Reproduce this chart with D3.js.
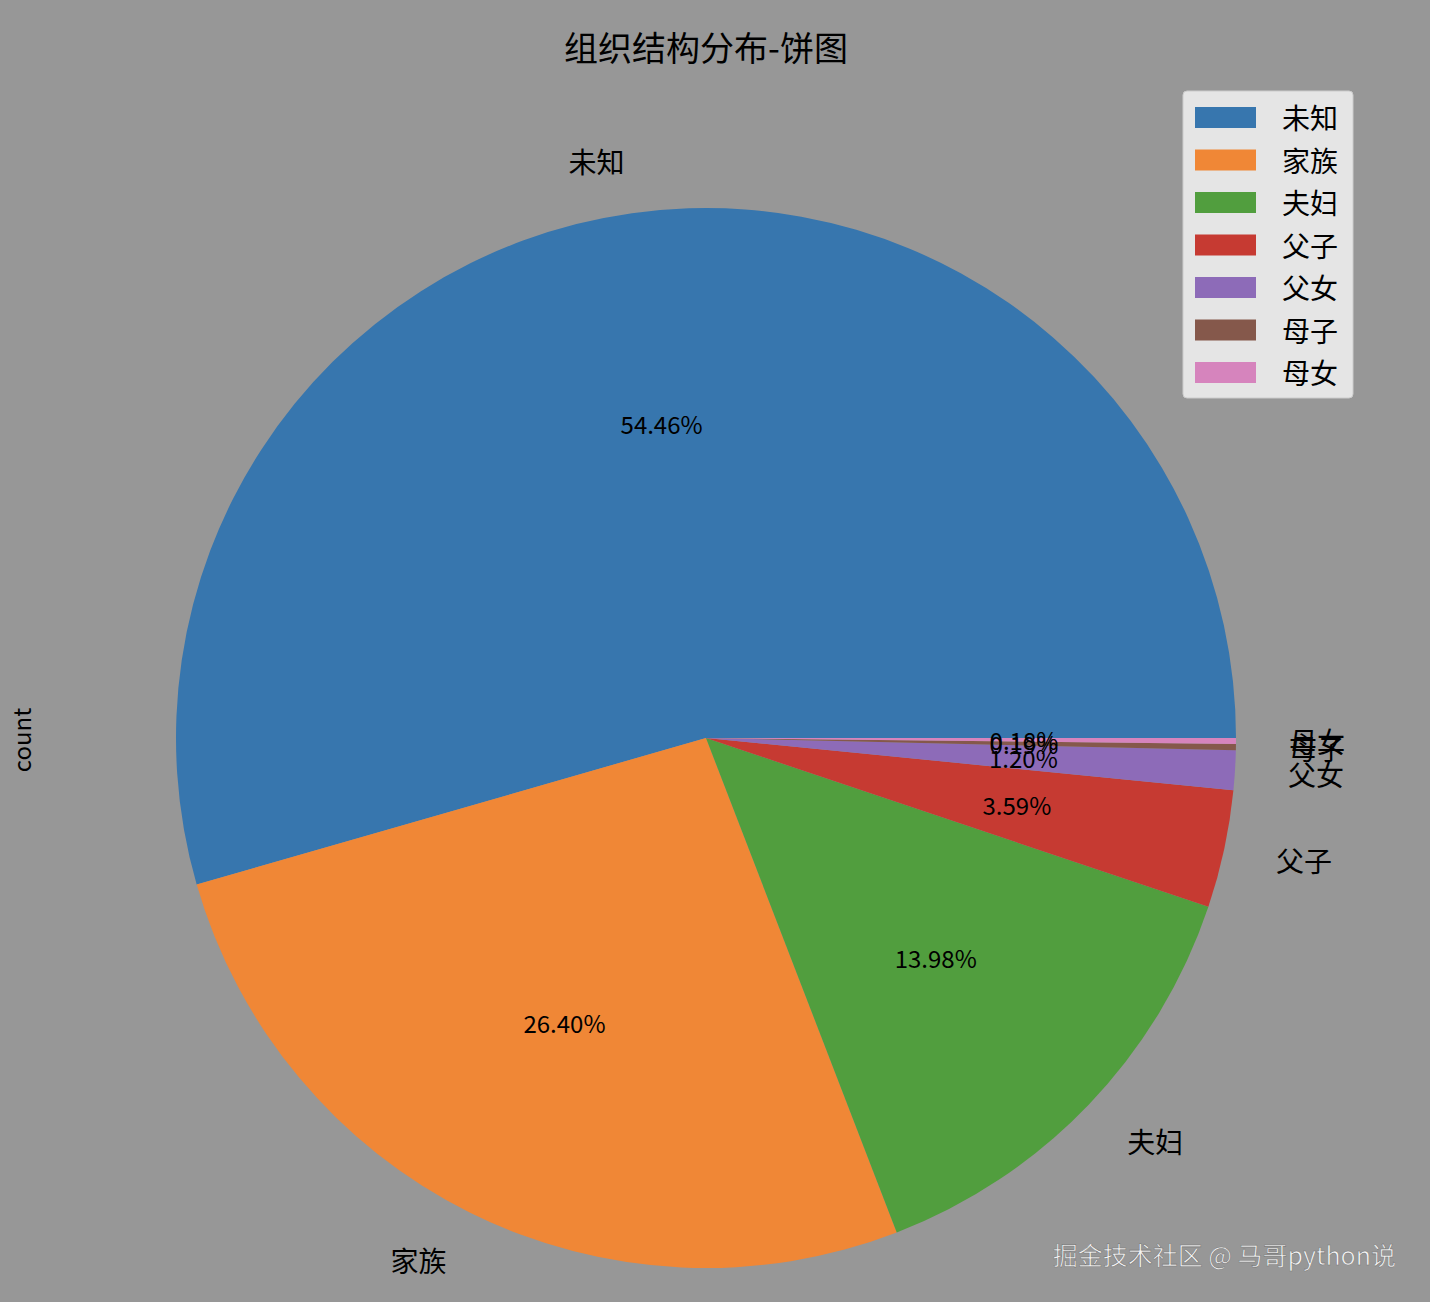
<!DOCTYPE html>
<html><head><meta charset="utf-8">
<script src="https://cdn.jsdelivr.net/npm/d3@7"></script>
<style>body{margin:0;background:#979797}text{font-family:"Noto Sans CJK SC",sans-serif}</style>
</head><body><svg id="c" width="1430" height="1302"></svg>
<script>
var labels = ['未知','家族','夫妇','父子','父女','母子','母女'];
var values = [54.46, 26.40, 13.98, 3.59, 1.20, 0.19, 0.18];
var colors = ['#3776ae','#f08736','#519e3e','#c63a32','#8d6bb8','#85584b','#d684bd'];

var svg = d3.select('#c');
svg.append('rect').attr('width',1430).attr('height',1302).attr('fill','#979797');
var cx = 706, cy = 738, r = 530;
var total = d3.sum(values);
var g = svg.append('g').attr('transform',`translate(${cx},${cy})`);
var arc = d3.arc().innerRadius(0).outerRadius(r);
var a0 = 0;
var slices = values.map(function(v,i){
  var a1 = a0 + v/total*2*Math.PI;
  var s = {i:i, t0:a0, t1:a1, mid:(a0+a1)/2};
  a0 = a1; return s;
});
g.selectAll('path').data(slices).enter().append('path')
  .attr('d', d => arc({startAngle:Math.PI/2-d.t1, endAngle:Math.PI/2-d.t0}))
  .attr('fill', d => colors[d.i]);
g.selectAll('text.lab').data(slices).enter().append('text')
  .attr('x', d => 1.1*r*Math.cos(d.mid)).attr('y', d => -1.1*r*Math.sin(d.mid))
  .attr('text-anchor', d => Math.cos(d.mid) > 0 ? 'start' : 'end')
  .attr('dominant-baseline','central').attr('font-size',28)
  .text(d => labels[d.i]);
g.selectAll('text.pct').data(slices).enter().append('text')
  .attr('x', d => 0.6*r*Math.cos(d.mid)).attr('y', d => -0.6*r*Math.sin(d.mid))
  .attr('text-anchor','middle').attr('dominant-baseline','central').attr('font-size',24)
  .text(d => values[d.i].toFixed(2) + '%');

svg.append('text').attr('x',706).attr('y',46).attr('text-anchor','middle')
  .attr('dominant-baseline','central').attr('font-size',34).text('组织结构分布-饼图');
svg.append('text').attr('transform','translate(20,740) rotate(-90)').attr('text-anchor','middle')
  .attr('dominant-baseline','central').attr('font-size',24).attr('font-family','DejaVu Sans').text('count');

var lg = svg.append('g').attr('transform','translate(1183,91)');
lg.append('rect').attr('width',170).attr('height',307).attr('rx',4)
  .attr('fill','#e5e5e5').attr('stroke','#cccccc');
labels.forEach(function(l,i){
  var y = 26 + i*42.5;
  lg.append('rect').attr('x',12).attr('y',y-10).attr('width',61).attr('height',21).attr('fill',colors[i]);
  lg.append('text').attr('x',99).attr('y',y).attr('dominant-baseline','central').attr('font-size',28).text(l);
});

svg.append('text').attr('x',1396).attr('y',1254).attr('text-anchor','end')
  .attr('dominant-baseline','central').attr('font-size',25).attr('fill','#f4f4f4')
  .attr('stroke','#777').attr('stroke-width',0.6).text('掘金技术社区 @ 马哥python说');
</script></body></html>
